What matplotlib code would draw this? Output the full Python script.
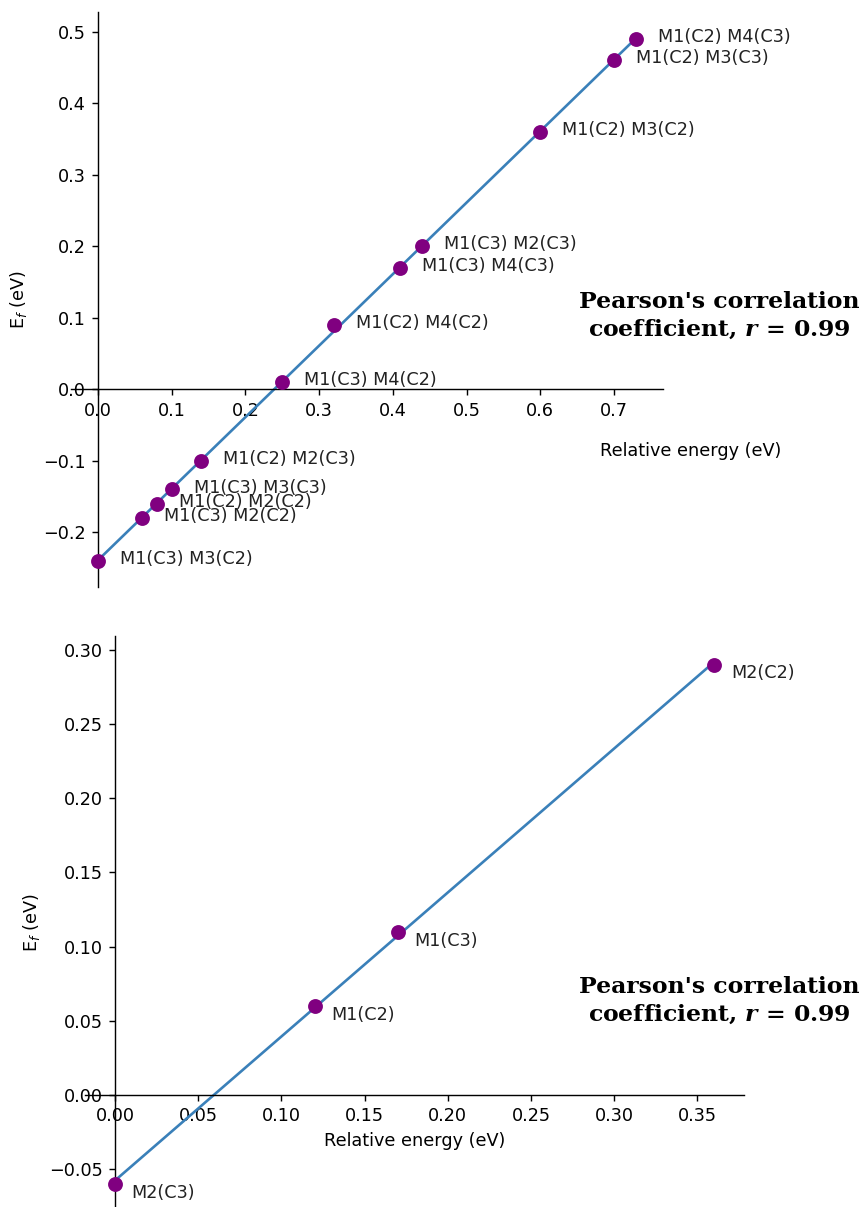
import numpy as np
import matplotlib.pyplot as plt

plt.rcParams['mathtext.fontset'] = 'custom'
plt.rcParams['mathtext.rm'] = 'DejaVu Sans'
plt.rcParams['mathtext.it'] = 'DejaVu Sans:italic'
plt.rcParams['mathtext.bf'] = 'DejaVu Sans:bold'
plt.rcParams['mathtext.bfit'] = 'DejaVu Serif:italic:bold'

# top panel: pairs of sites
pair_energy = [0.73, 0.70, 0.60, 0.44, 0.41, 0.32, 0.25, 0.14, 0.10, 0.08, 0.06, 0.00]
pair_ef = [0.49, 0.46, 0.36, 0.20, 0.17, 0.09, 0.01, -0.10, -0.14, -0.16, -0.18, -0.24]
pair_labels = ['M1(C2) M4(C3)', 'M1(C2) M3(C3)', 'M1(C2) M3(C2)', 'M1(C3) M2(C3)',
               'M1(C3) M4(C3)', 'M1(C2) M4(C2)', 'M1(C3) M4(C2)', 'M1(C2) M2(C3)',
               'M1(C3) M3(C3)', 'M1(C2) M2(C2)', 'M1(C3) M2(C2)', 'M1(C3) M3(C2)']

# bottom panel: single sites
site_energy = [0.36, 0.17, 0.12, 0.00]
site_ef = [0.29, 0.11, 0.06, -0.06]
site_labels = ['M2(C2)', 'M1(C3)', 'M1(C2)', 'M2(C3)']

pearson_text = "Pearson's correlation\ncoefficient, $\\mathbfit{r}$ = 0.99"

W, H, DPI = 866, 1207, 127
fig = plt.figure(figsize=(W / DPI, H / DPI), dpi=DPI)

line_color = '#3a80b9'
dot_color = '#800080'


def draw(ax, x, y, labels, offset, ypad):
    x = np.array(x)
    y = np.array(y)
    slope, icpt = np.polyfit(x, y, 1)
    xs = np.array([x.min(), x.max()])
    ax.plot(xs, slope * xs + icpt, color=line_color, lw=1.5, zorder=2)
    ax.scatter(x, y, s=55, color=dot_color, zorder=3)
    for xi, yi, lab in zip(x, y, labels):
        ax.annotate(lab, (xi, yi), xytext=offset, textcoords='offset points',
                    ha='left', va='center', fontsize=10, color='#222222')
    ax.spines['left'].set_position('zero')
    ax.spines['bottom'].set_position('zero')
    ax.spines['top'].set_visible(False)
    ax.spines['right'].set_visible(False)
    ax.set_ylabel('E$_f$ (eV)', labelpad=ypad)


ax1 = fig.add_axes([71 / W, 1 - 587 / H, 592 / W, 575 / H])
draw(ax1, pair_energy, pair_ef, pair_labels, (12.5, 1), 8)
ax1.set_xlabel('Relative energy (eV)')
ax1.xaxis.set_label_coords(1.046, 0.252)

ax2 = fig.add_axes([85 / W, 1 - 1210 / H, 659 / W, 574 / H])
draw(ax2, site_energy, site_ef, site_labels, (9.5, -5), 4)
ax2.set_xlabel('Relative energy (eV)')

for yy in (316, 1001):
    fig.text(719 / W, 1 - yy / H, pearson_text, ha='center', va='center',
             fontsize=13.3, fontweight='bold', family='DejaVu Serif',
             linespacing=1.3)

fig.savefig('out.png', dpi=DPI)
